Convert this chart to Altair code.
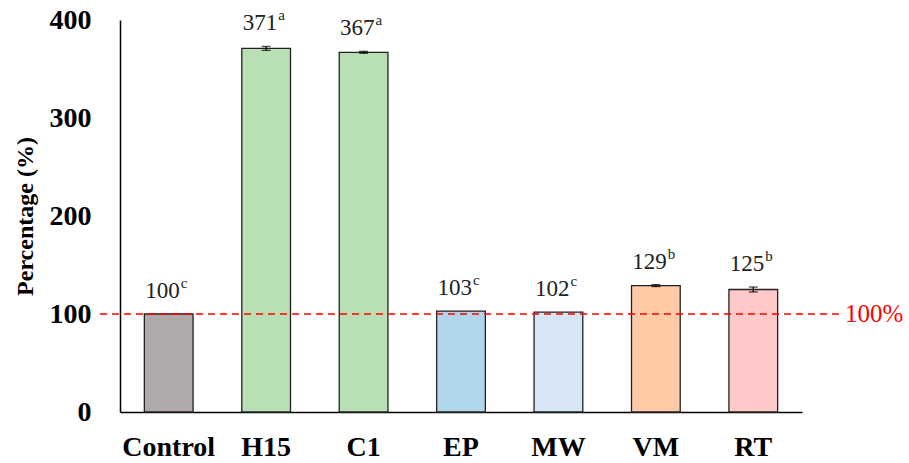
import altair as alt
import pandas as pd

# Treatment groups, mean percentages, error half-widths and significance letters
groups = ["Control", "H15", "C1", "EP", "MW", "VM", "RT"]
means = [100, 371, 367, 103, 102, 129, 125]
errors = [0, 2, 1, 0, 0, 1, 2.5]
letters = ["c", "a", "a", "c", "c", "b", "b"]
colors = ["#afaaa9", "#b9dfb5", "#b9dfb5", "#aed6ec", "#d6e6f5", "#fecba6", "#ffc9ca"]

df = pd.DataFrame({
    "group": groups,
    "mean": means,
    "err": errors,
    "letter": letters,
    "color": colors,
})
df["lo"] = df["mean"] - df["err"]
df["hi"] = df["mean"] + df["err"]
df["label"] = df["mean"].astype(str)

FONT = "Liberation Serif"

x = alt.X(
    "group:N",
    sort=groups,
    scale=alt.Scale(paddingInner=0.5, paddingOuter=0.25),
    axis=alt.Axis(
        title=None, labelAngle=0, ticks=False, labelFont=FONT, labelFontSize=28,
        labelFontWeight="bold", labelColor="black", labelPadding=21,
        domainColor="black", domainWidth=1.5,
    ),
)
y_scale = alt.Scale(domain=[0, 400], nice=False)

base = alt.Chart(df)

bars = base.mark_bar(stroke="#222222", strokeWidth=1.3).encode(
    x=x,
    y=alt.Y(
        "mean:Q",
        scale=y_scale,
        axis=alt.Axis(
            title="Percentage (%)", values=[0, 100, 200, 300, 400], ticks=False,
            grid=False, labelFont=FONT, labelFontSize=28, labelFontWeight="bold",
            labelColor="black", labelPadding=29, titleFont=FONT, titleFontSize=24,
            titleFontWeight="bold", titleColor="black", titlePadding=12,
            domainColor="black", domainWidth=1.5,
        ),
    ),
    fill=alt.Color("color:N", scale=None),
)

err_df = df[df["err"] > 0]
err_base = alt.Chart(err_df)
err_rule = err_base.mark_rule(color="black", strokeWidth=1.3).encode(
    x=alt.X("group:N", sort=groups), y=alt.Y("lo:Q", scale=y_scale), y2="hi:Q"
)
cap_lo = err_base.mark_tick(color="black", size=9, thickness=1.3, orient="horizontal").encode(
    x=alt.X("group:N", sort=groups), y=alt.Y("lo:Q", scale=y_scale)
)
cap_hi = err_base.mark_tick(color="black", size=9, thickness=1.3, orient="horizontal").encode(
    x=alt.X("group:N", sort=groups), y=alt.Y("hi:Q", scale=y_scale)
)

value_text = base.mark_text(
    font=FONT, fontSize=23, color="#222222", align="right", baseline="middle", dx=11, dy=-23
).encode(x=alt.X("group:N", sort=groups), y=alt.Y("hi:Q", scale=y_scale), text="label:N")

letter_text = base.mark_text(
    font=FONT, fontSize=15, color="#222222", align="left", baseline="middle", dx=12, dy=-31
).encode(x=alt.X("group:N", sort=groups), y=alt.Y("hi:Q", scale=y_scale), text="letter:N")

# Dashed reference line at the control level, with its label on the right
ref_df = pd.DataFrame({"ref": [100], "txt": ["100%"]})
ref_line = alt.Chart(ref_df).mark_rule(color="#ff0000", strokeDash=[7, 5], strokeWidth=1.3).encode(
    y=alt.Y("ref:Q", scale=y_scale), x=alt.value(-20), x2=alt.value(723)
)
ref_text = alt.Chart(ref_df).mark_text(
    font=FONT, fontSize=25, color="#ff0000", align="left", baseline="middle"
).encode(y=alt.Y("ref:Q", scale=y_scale), x=alt.value(725), text="txt:N")

chart = alt.layer(
    bars, ref_line, err_rule, cap_lo, cap_hi, value_text, letter_text, ref_text
).properties(
    width=682,
    height=392,
    background="white",
    autosize=alt.AutoSizeParams(type="none"),
    padding={"left": 120, "top": 20, "right": 107, "bottom": 51},
).configure_view(stroke=None)

chart.save("out.html", embed_options={"renderer": "svg", "actions": False})
